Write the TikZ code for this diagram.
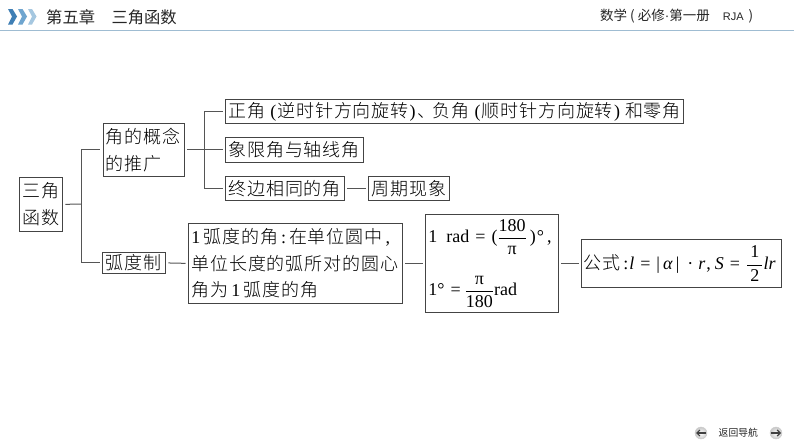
\documentclass[tikz,border=0pt]{standalone}
\usepackage{amsmath}
\usepackage{fontspec}
\usetikzlibrary{arrows.meta}
\setmainfont{Liberation Serif}
\newfontfamily\cjk[LetterSpace=5]{Noto Sans CJK SC Light}
\newfontfamily\cjkhead{Noto Sans CJK SC}
\newfontfamily\headlat{Liberation Sans}
\newcommand{\CC}[1]{{\cjk #1}}
\newcommand{\lp}{\makebox[12pt][r]{(\hspace{1pt}}}
\newcommand{\rp}{\makebox[12pt][l]{\hspace{1pt})}}
\newcommand{\dun}{\makebox[12pt][c]{\CC{、}}}
\newcommand{\myfrac}[2]{\ensuremath{\genfrac{}{}{0.5pt}{0}{\hbox{#1}}{\hbox{#2}}}}
\definecolor{lineg}{HTML}{555555}
\definecolor{boxg}{HTML}{444444}
\definecolor{c1}{HTML}{3F7FB5}
\definecolor{c2}{HTML}{6FA5CF}
\definecolor{c3}{HTML}{A5C7E0}
\tikzset{
  x=1pt,y=-1pt,
  bx/.style={draw=boxg,line width=0.8pt,anchor=north west,inner xsep=3pt,inner ysep=0pt,align=left,text=black,
    font=\fontsize{18}{26.5}\selectfont},
  lnk/.style={draw=lineg,line width=1pt,shorten <=2.5pt,shorten >=2.5pt},
  lnkb/.style={draw=lineg,line width=1pt,shorten >=2.5pt},
  navbtn/.style={circle,minimum size=12pt,inner sep=0pt,draw=black!20,shade,inner color=white,outer color=black!22},
}
\begin{document}
\begin{tikzpicture}
\useasboundingbox (0,0) rectangle (794,447);
\fill[white] (0,0) rectangle (794,447);
% header
\fill[c1] (8,9) -- (12.5,9) -- (17,16.5) -- (12.5,24.5) -- (8,24.5) -- (12,16.5) -- cycle;
\fill[c2] (18,9) -- (22.5,9) -- (27,16.5) -- (22.5,24.5) -- (18,24.5) -- (22,16.5) -- cycle;
\fill[c3] (28,9) -- (32,9) -- (36.5,16.5) -- (32,24.5) -- (28,24.5) -- (32,16.5) -- cycle;
\draw[color=c3!85!gray,line width=1.4pt] (0,30.5) -- (794,30.5);
\node[anchor=west,inner sep=0pt,font=\fontsize{16.3}{16}\selectfont\cjkhead,text=black!85] (title) at (46,17) {第五章\hspace{16.5pt}三角函数};
\node[anchor=west,inner sep=0pt,font=\fontsize{13.5}{14}\selectfont\cjkhead,text=black!85] (subj) at (600,16) {数学 ( 必修{\headlat ·}第一册\hspace{13pt}{\headlat\fontsize{11}{12}\selectfont RJA}\hspace{2pt} )};
% boxes
\node[bx,text width=37pt,minimum height=54pt] (sj) at (19,177) {\CC{三角}\\\CC{函数}};
\node[bx,text width=75.5pt,minimum height=53pt] (gn) at (102.5,123) {\CC{角的概念}\\\CC{的推广}};
\node[bx,text width=452pt,minimum height=24pt] (zj) at (225,99) {\CC{正角}\lp\CC{逆时针方向旋转}\rp\dun\CC{负角}\lp\CC{顺时针方向旋转}\rp\CC{和零角}};
\node[bx,text width=132pt,minimum height=25pt] (xx) at (225,137) {\CC{象限角与轴线角}};
\node[bx,text width=113pt,minimum height=24pt] (zb) at (225,176) {\CC{终边相同的角}};
\node[bx,text width=75pt,minimum height=24pt] (zq) at (368,176) {\CC{周期现象}};
\node[bx,text width=57pt,minimum height=21pt] (hd) at (102,252) {\CC{弧度制}};
\node[bx,text width=208pt,minimum height=80pt] (yh) at (188,223) {1\,\CC{弧度的角}\,:\,\CC{在单位圆中}\,,\\\CC{单位长度的弧所对的圆心}\\\CC{角为}\,1\,\CC{弧度的角}};
\node[bx,text width=127pt,minimum height=98pt,font=\fontsize{18}{20}\selectfont] (rad) at (425,214) {1\hspace{9pt}rad = (\myfrac{180}{π}\hspace{3pt})\hspace{1pt}°\hspace{3pt},\\[20pt]1° =\hspace{-2pt} \myfrac{π}{180}rad};
\node[bx,text width=196pt,minimum height=48pt,inner xsep=2pt,font=\fontsize{18}{20}\selectfont] (gs) at (581,239) {\CC{公式}\,:\hspace{1pt}\textit{l} = |\,\textit{α}\,|\hspace{8pt}·\hspace{5pt}\textit{r}\hspace{1pt},\hspace{4pt}\textit{S} = \myfrac{\makebox[15pt]{1}}{\makebox[15pt]{2}}\textit{lr}};
% connectors
\coordinate (j1) at (81,204);
\coordinate (j2) at (204,150);
\draw[lnk,shorten >=0pt] (sj.east) -- (j1);
\draw[lnkb] (j1) |- (gn.west);
\draw[lnkb] (j1) |- (hd.west);
\draw[lnk] (gn.east) -- (xx.west);
\draw[lnkb] (j2) |- (zj.west);
\draw[lnkb] (j2) |- (zb.west);
\draw[lnk] (zb.east) -- (zq.west);
\draw[lnk] (hd.east) -- (yh.west);
\draw[lnk] (yh.east) -- (rad.west);
\draw[lnk] (rad.east) -- (gs.west);
% nav
\node[navbtn] (prev) at (701,433) {};
\node[navbtn] (next) at (776,433) {};
\draw[black!75,line width=1.2pt,-{Straight Barb[length=3pt,width=6pt]}] (706,433) -- (696,433);
\draw[black!75,line width=1.2pt,-{Straight Barb[length=3pt,width=6pt]}] (771,433) -- (781,433);
\node[anchor=west,inner sep=0pt,font=\fontsize{9.8}{10}\selectfont\cjkhead,text=black!85] (nav) at (718.5,433) {返回导航};
\end{tikzpicture}
\end{document}
